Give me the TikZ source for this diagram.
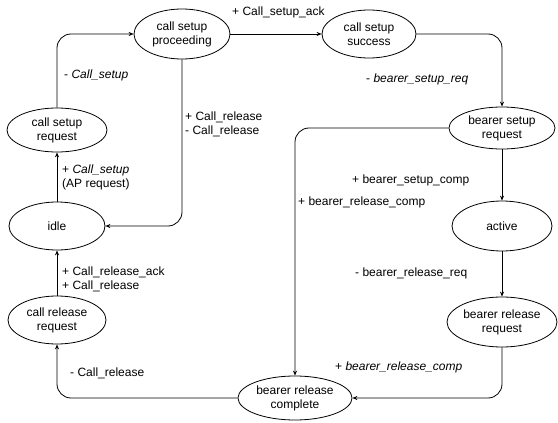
\documentclass[tikz,border=0pt]{standalone}
\usepackage{fontspec}
\setmainfont{Liberation Sans}
\usetikzlibrary{shapes.geometric,arrows.meta}
\begin{document}
\begin{tikzpicture}[x=1pt,y=-1pt,
    font=\fontsize{12}{14}\selectfont,
    >={Stealth[length=5pt,width=4pt]},
    st/.style={draw,ellipse,line width=0.8pt,inner sep=0pt,align=center},
    lab/.style={anchor=west,inner sep=0pt,align=left},
    tr/.style={->,line width=0.8pt,rounded corners=14pt}]
      \useasboundingbox (0,0) rectangle (558,423);
      % states
      \node[st,minimum width=96,minimum height=50] (proc) at (182,34) {call setup\\proceeding};
      \node[st,minimum width=94,minimum height=48] (succ) at (369,34) {call setup\\success};
      \node[st,minimum width=100,minimum height=44] (csreq) at (57,130) {call setup\\request};
      \node[st,minimum width=96,minimum height=48] (idle) at (57,226) {idle};
      \node[st,minimum width=98,minimum height=48] (crreq) at (57,320) {call release\\request};
      \node[st,minimum width=106,minimum height=42] (bsreq) at (502,128) {bearer setup\\request};
      \node[st,minimum width=100,minimum height=50] (active) at (502,226) {active};
      \node[st,minimum width=110,minimum height=50] (brreq) at (502,322) {bearer release\\request};
      \node[st,minimum width=114,minimum height=44] (brcomp) at (295,398) {bearer release\\complete};
      % transitions
      \draw[tr] (csreq.north) |- (proc.west);
      \draw[tr] (proc.east) -- (succ.west);
      \draw[tr] (succ.east) -| (bsreq.north);
      \draw[tr] (bsreq.south) -- (active.north);
      \draw[tr] (active.south) -- (brreq.north);
      \draw[tr] (brreq.south) |- (brcomp.east);
      \draw[tr] (bsreq.west) -| (brcomp.north);
      \draw[tr] (brcomp.west) -| (crreq.south);
      \draw[tr] (crreq.north) -- (idle.south);
      \draw[tr] (idle.north) -- (csreq.south);
      \draw[tr] (proc.south) |- (idle.east);
      % labels
      \node[lab] (l1) at (64,75) {- \textit{Call\_setup}};
      \node[lab] (l2) at (232,12) {+ Call\_setup\_ack};
      \node[lab] (l3) at (185,124) {+ Call\_release\\- Call\_release};
      \node[lab] (l4) at (62,177) {+ \textit{Call\_setup}\\(AP request)};
      \node[lab] (l5) at (366,79) {- \textit{bearer\_setup\_req}};
      \node[lab] (l6) at (352,180) {+ bearer\_setup\_comp};
      \node[lab] (l7) at (298,202) {+ bearer\_release\_comp};
      \node[lab] (l8) at (355,273) {- bearer\_release\_req};
      \node[lab] (l9) at (335,367) {+ \textit{bearer\_release\_comp}};
      \node[lab] (l10) at (62,279) {+ Call\_release\_ack\\+ Call\_release};
      \node[lab] (l11) at (70,373) {- Call\_release};
    \end{tikzpicture}
\end{document}
